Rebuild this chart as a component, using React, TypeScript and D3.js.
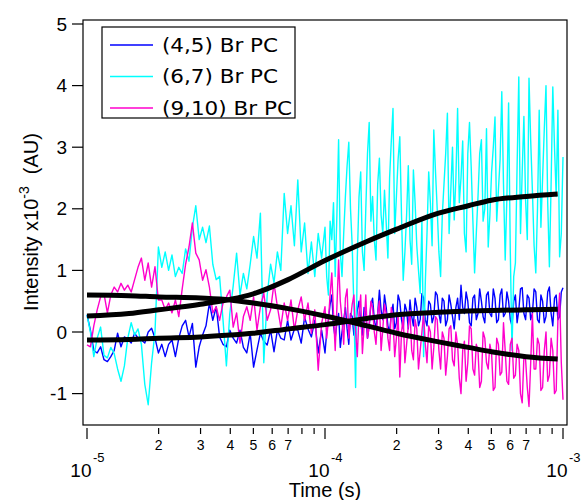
import React from 'react';
import * as d3 from 'd3';

// sampling grid of the traces: 70 samples in the first decade, 141 in the second (log-spaced)
const times = [
  ...d3.range(70).map((i) => Math.pow(10, -5 + i / 70)),
  ...d3.range(141).map((j) => Math.pow(10, -4 + j / 140)),
];

const series45 = [
  0.28, 0.03, -0.3, -0.34, -0.24, -0.45, -0.48, -0.4, -0.3, -0.02,
  -0.24, -0.08, -0.12, -0.18, -0.02, -0.1, -0.13, -0.18, 0.0, 0.06,
  -0.1, -0.34, -0.2, -0.4, -0.2, -0.13, -0.4, -0.1, 0.1, 0.19,
  -0.08, 0.14, -0.57, -0.24, -0.05, 0.1, 0.47, 0.19, 0.41, -0.08,
  -0.2, -0.24, 0.03, -0.1, -0.18, 0.03, -0.25, -0.34, -0.02, -0.57,
  -0.29, -0.02, -0.15, -0.21, 0.03, -0.32, 0.03, -0.1, -0.13, 0.19,
  -0.13, 0.05, 0.03, -0.18, 0.24, 0.05, -0.08, 0.19, -0.34, 0.03,
  -0.34, 0.0, 0.19, 0.45, 0.6, 0.1, -0.1, 0.15, 0.3, -0.25, 0.0, 0.2, 0.4, 0.05, -0.2, 0.3, 0.25, -0.05, 0.1, 0.35,
  0.5, 0.15, -0.05, 0.4, 0.3, -0.1, 0.1, 0.45, 0.55, 0.2, 0.05, 0.3, 0.68, 0.35, 0.2, 0.6, 0.4, 0.1, 0.0, 0.3,
  0.45, 0.05, 0.15, 0.6, 0.5, 0.2, 0.05, 0.45, 0.35, 0.05, 0.52, 0.25, 0.1, 0.55, 0.4, 0.1, 0.2, 0.62, 0.55, 0.2,
  0.1, 0.5, 0.45, 0.15, 0.25, 0.65, 0.6, 0.3, 0.15, 0.55, 0.5, 0.1, 0.2, 0.6, 0.45, 0.25, 0.05, 0.4, 0.55, 0.2,
  0.76, 0.4, 0.3, 0.65, 0.5, 0.15, 0.1, 0.55, 0.6, 0.2, 0.3, 0.7, 0.5, 0.25, 0.15, 0.6, 0.65, 0.3, 0.25, 0.7,
  0.55, 0.15, 0.2, 0.6, 0.7, 0.25, 0.3, 0.65, 0.5, 0.2, 0.1, 0.5, 0.6, 0.15, 0.35, 0.7, 0.72, 0.3, 0.2, 0.6,
  0.55, 0.2, 0.3, 0.7, 0.65, 0.2, 0.15, 0.6, 0.5, 0.15, 0.25, 0.65, 0.73, 0.3, 0.1, 0.55, 0.6, 0.2, 0.25, 0.65,
  0.72,
];

const series67 = [
  0.28, 0.0, -0.4, -0.1, 0.08, -0.38, -0.42, -0.25, -0.35, -0.6,
  -0.8, -0.55, -0.1, 0.15, -0.05, 0.05, -0.2, -0.85, -1.18, -0.5,
  0.0, 1.38, 1.05, 1.3, 1.0, 1.25, 0.9, 1.05, 0.95, 1.35,
  1.15, 1.7, 2.05, 1.5, 1.7, 1.45, 1.72, 1.1, 0.85, 0.9,
  0.2, -0.55, 0.3, 0.75, 1.28, 0.6, 0.95, 0.7, 1.1, 1.55,
  1.2, 1.93, -0.5, 0.6, 1.1, 0.8, 1.3, 1.0, 2.25, 1.6,
  2.05, 1.4, 2.47, 1.3, 1.77, 0.95, 1.46, 0.9, 1.6, 1.2,
  1.7, 0.9, 0.6, 1.8, 1.5, 2.1, 0.9, 1.9, 3.12, 1.3, 0.9, 1.6, 2.2, 2.7, 3.08, 2.0, 1.4, 0.4, -0.9, 1.2,
  2.19, 2.6, 1.3, 1.0, 2.0, 2.9, 3.4, 1.8, 2.2, 1.5, 1.17, 2.4, 2.82, 1.9, 1.6, 2.3, 1.77, 1.2, 2.5, 3.1,
  3.63, 1.6, 2.2, 2.8, 3.17, 1.9, 0.84, 1.3, 1.9, 2.7, 1.5, 1.1, 2.63, 2.1, 1.4, 1.0, 0.63, 1.8, -0.4, 0.8,
  1.6, 2.6, 2.09, 1.4, 3.28, 2.6, 2.0, 1.3, 0.9, 1.9, 2.4, 2.9, 3.55, 1.6, 2.3, 3.0, 1.82, 2.5, 3.63, 2.1,
  2.5, 3.1, 1.6, 1.3, 2.9, 3.4, 2.68, 1.8, 0.96, 1.6, 2.2, 2.9, 3.12, 1.8, 2.0, 3.3, 1.38, 1.9, 2.6, 3.0,
  3.49, 1.8, 2.3, 2.8, 3.9, 2.4, 1.17, 2.2, 3.72, 1.3, -0.3, 0.9, 1.12, 2.7, 4.14, 1.6, 2.6, 3.5, 2.14, 1.5,
  4.12, 3.1, 2.3, 1.4, 0.96, 2.0, 3.6, 1.7, 2.5, 3.3, 4.0, 2.1, 1.06, 2.4, 3.98, 3.0, 2.2, 3.6, 1.22, 1.6,
  2.84,
];

const series910 = [
  -0.21, -0.24, 0.1, 0.36, 0.57, 0.62, 0.31, 0.6, 0.73, 0.65,
  0.79, 0.68, 0.76, 0.65, 0.85, 1.05, 1.2, 0.84, 1.12, 0.73,
  1.06, 0.52, 0.52, 0.36, 0.47, 0.31, 0.52, 0.25, 0.7, 1.1,
  1.38, 1.77, 1.28, 1.17, 0.84, 1.01, 0.73, 0.31, 0.41, 0.19,
  0.47, 0.57, 0.68, 0.08, 0.31, -0.18, 0.25, 0.41, 0.19, 0.57,
  0.03, 0.41, 0.63, 0.19, 0.36, 0.79, 0.41, 0.08, 0.47, 0.19,
  0.52, 0.03, 0.36, 0.57, 0.19, 0.47, -0.02, 0.36, -0.62, 0.14,
  0.41, -0.1, 0.19, 0.6, 0.96, 0.3, -0.3, 0.4, 1.17, 0.5, 0.2, -0.2, 0.55, 0.7, -0.1, 0.2, 0.45, 0.6, 0.0, -0.4,
  0.3, 0.6, -0.35, 0.1, 0.6, -0.1, 0.1, 0.5, 0.4, 0.0, -0.2, 0.3, 0.5, -0.3, 0.05, 0.45, 0.3, -0.1, -0.3, 0.4,
  0.2, -0.4, -0.1, 0.3, -0.73, 0.0, 0.25, -0.5, -0.2, 0.1, 0.35, -0.3, -0.45, 0.2, 0.05, -0.6, -0.3, 0.0, 0.3, -0.2,
  -0.5, 0.1, 0.0, -0.6, -0.25, 0.25, 0.2, -0.3, -0.6, 0.0, -0.1, -0.7, -0.4, 0.05, 0.1, -0.45, -0.55, 0.0, -0.2, -0.75,
  -1.0, -0.3, -0.15, -0.8, -0.5, 0.1, 0.05, -0.6, -0.7, -0.2, -0.3, -0.9, -0.8, 0.0, -0.1, -0.5, -0.6, -0.2, -0.35, -0.95,
  -0.9, -0.1, -0.2, -0.7, -0.65, 0.15, -0.3, -0.8, -0.85, -0.2, -0.1, -0.75, -0.7, -0.2, -0.3, -1.0, -1.15, -0.4, -0.45, -0.9,
  -1.21, -0.5, 0.3, -0.6, -0.6, -0.1, -0.2, -0.95, -0.9, -0.3, 0.0, -0.8, -0.7, -0.1, -0.3, -1.0, -0.95, 0.2, 0.63, -0.5,
  -1.1,
];

const fitTimes = [1e-5, 1.5e-5, 2e-5, 3e-5, 4e-5, 5e-5, 7e-5, 1e-4, 1.5e-4, 2e-4, 3e-4, 4e-4, 5e-4, 7e-4, 9.5e-4];
const fit45 = [-0.13, -0.12, -0.1, -0.08, -0.05, -0.02, 0.05, 0.12, 0.22, 0.28, 0.32, 0.34, 0.35, 0.36, 0.37];
const fit67 = [0.26, 0.3, 0.36, 0.45, 0.53, 0.62, 0.85, 1.16, 1.47, 1.67, 1.93, 2.05, 2.14, 2.2, 2.24];
const fit910 = [0.6, 0.59, 0.57, 0.55, 0.52, 0.47, 0.38, 0.26, 0.1, -0.02, -0.16, -0.25, -0.32, -0.4, -0.44];

const yTicks = [-1, 0, 1, 2, 3, 4, 5];
const decades = [1e-5, 1e-4, 1e-3];
const decadeExponents = ['-5', '-4', '-3'];
const minorMultipliers = [2, 3, 4, 5, 6, 7, 8, 9];
const labeledMinor = [2, 3, 4, 5, 6, 7];
const legendLabels = ['(4,5) Br PC', '(6,7) Br PC', '(9,10) Br PC'];
const legendWidths = [116, 116, 130];
const colors = ['#0000ff', '#00ffff', '#ff00cc'];

const AXIS_FONT = '"Liberation Sans", Arial, sans-serif';
const LEGEND_FONT = '"DejaVu Sans", Verdana, sans-serif';

export default function App() {
  const W = 582;
  const H = 500;
  const x = d3.scaleLog().domain([1e-5, 1e-3]).range([87, 563]);
  const y = d3.scaleLinear().domain([-1, 5]).range([393.6, 24]);
  const frame = { left: 83, right: 567, top: 20, bottom: 425 };

  const line = d3
    .line<[number, number]>()
    .x((d) => x(d[0]))
    .y((d) => y(d[1]));
  const fitLine = d3
    .line<[number, number]>()
    .x((d) => x(d[0]))
    .y((d) => y(d[1]))
    .curve(d3.curveMonotoneX);

  const data = [series45, series67, series910].map((s) =>
    s.map((v, i) => [times[i], v] as [number, number])
  );
  const fits = [fit45, fit67, fit910].map((s) =>
    s.map((v, i) => [fitTimes[i], v] as [number, number])
  );

  const minorTicks: { t: number; m: number }[] = [];
  decades.slice(0, 2).forEach((d) => minorMultipliers.forEach((m) => minorTicks.push({ t: d * m, m })));

  const tickTop = 428;

  return (
    <svg
      width={W}
      height={H}
      style={{ position: 'absolute', left: 0, top: 0, background: '#fff' }}
    >
      <rect x={0} y={0} width={W} height={H} fill="#fff" />
      <defs>
        <clipPath id="plotclip">
          <rect x={frame.left} y={frame.top} width={frame.right - frame.left} height={frame.bottom - frame.top} />
        </clipPath>
      </defs>

      {/* data traces */}
      <g clipPath="url(#plotclip)" fill="none">
        {data.map((d, k) => (
          <path key={k} d={line(d) || ''} stroke={colors[k]} strokeWidth={1.4} strokeLinejoin="round" />
        ))}
        {fits.map((d, k) => (
          <path key={'f' + k} d={fitLine(d) || ''} stroke="#000" strokeWidth={5} />
        ))}
      </g>

      {/* frame */}
      <rect
        x={frame.left}
        y={frame.top}
        width={frame.right - frame.left}
        height={frame.bottom - frame.top}
        fill="none"
        stroke="#000"
        strokeWidth={1.2}
      />

      {/* y axis */}
      <g fontFamily={AXIS_FONT} fontSize={19} fill="#000">
        {yTicks.map((t) => (
          <g key={t}>
            <line x1={72} x2={frame.left} y1={y(t)} y2={y(t)} stroke="#000" strokeWidth={1.2} />
            <text x={67} y={y(t)} dy="0.35em" textAnchor="end">
              {t}
            </text>
          </g>
        ))}
      </g>

      {/* x axis */}
      <g fontFamily={AXIS_FONT} fill="#000">
        {decades.map((d, k) => (
          <g key={d}>
            <line x1={x(d)} x2={x(d)} y1={tickTop} y2={tickTop + 11} stroke="#000" strokeWidth={1.2} />
            <text x={x(d) + 4.5} y={477} fontSize={19} textAnchor="end">
              10
            </text>
            <text x={x(d) + 6} y={462} fontSize={13} textAnchor="start">
              {decadeExponents[k]}
            </text>
          </g>
        ))}
        {minorTicks.map(({ t, m }) => (
          <g key={t}>
            <line x1={x(t)} x2={x(t)} y1={tickTop} y2={tickTop + 6} stroke="#000" strokeWidth={1.2} />
            {labeledMinor.includes(m) && (
              <text x={x(t)} y={450} fontSize={14} textAnchor="middle">
                {m}
              </text>
            )}
          </g>
        ))}
        <text x={325} y={497} fontSize={20} textAnchor="middle">
          Time (s)
        </text>
      </g>

      {/* y title */}
      <text
        transform="translate(38,222) rotate(-90)"
        fontFamily={AXIS_FONT}
        fontSize={20}
        textAnchor="middle"
        fill="#000"
      >
        Intensity x10
        <tspan fontSize={14} dy={-9}>
          -3
        </tspan>
        <tspan dy={9} dx={12}>
          (AU)
        </tspan>
      </text>

      {/* legend */}
      <g>
        <rect x={102} y={27} width={193} height={91} fill="#fff" stroke="#000" strokeWidth={1.2} />
        {legendLabels.map((lab, k) => {
          const ly = 45 + k * 31.5;
          return (
            <g key={lab}>
              <line x1={110} x2={153} y1={ly} y2={ly} stroke={colors[k]} strokeWidth={1.5} />
              <text
                x={162}
                y={ly + 6.5}
                fontFamily={LEGEND_FONT}
                fontSize={19}
                textLength={legendWidths[k]}
                lengthAdjust="spacingAndGlyphs"
                fill="#000"
              >
                {lab}
              </text>
            </g>
          );
        })}
      </g>
    </svg>
  );
}
